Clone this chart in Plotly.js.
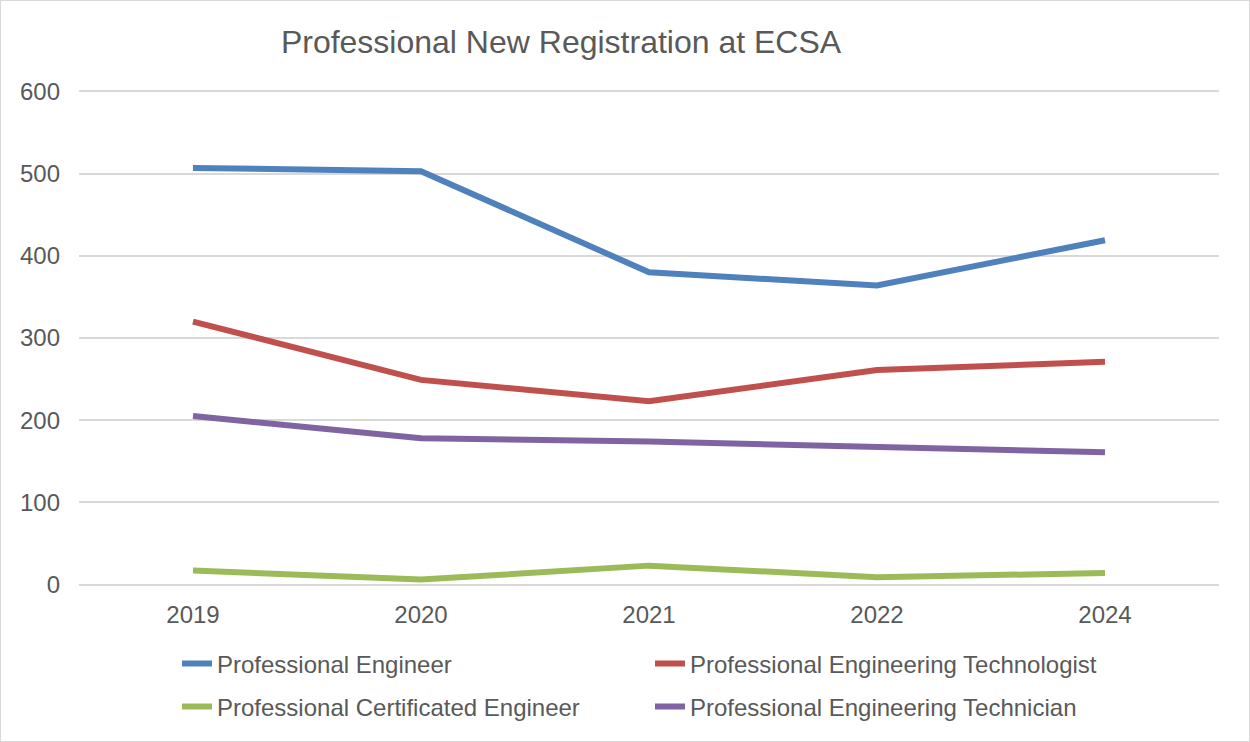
<!DOCTYPE html>
<html>
<head>
<meta charset="utf-8">
<script src="https://cdn.plot.ly/plotly-3.0.1.min.js"></script>
<style>
  html, body { margin: 0; padding: 0; background: #ffffff; }
  #frame { position: absolute; left: 0; top: 0; width: 1248px; height: 740px; border: 1px solid #d9d9d9; background: #fff; }
  #chart { width: 1248px; height: 740px; }
</style>
</head>
<body>
<div id="frame"><div id="chart"></div></div>
<script>
const years = ["2019", "2020", "2021", "2022", "2024"];
const professionalEngineer = [507, 503, 380, 364, 419];
const engineeringTechnologist = [320, 249, 223, 261, 271];
const certificatedEngineer = [17, 6, 23, 9, 14];
const engineeringTechnician = [205, 178, 174, 167, 161];

const seriesNames = [
  "Professional Engineer",
  "Professional Engineering Technologist",
  "Professional Certificated Engineer",
  "Professional Engineering Technician"
];
const seriesValues = [professionalEngineer, engineeringTechnologist, certificatedEngineer, engineeringTechnician];
const seriesColors = ["#4f81bd", "#c0504d", "#9bbb59", "#8064a2"];
const seriesLegend = ["legend", "legend", "legend2", "legend2"];

const textColor = "#595959";
const fontFamily = "Liberation Sans, Arial, sans-serif";

const traces = seriesNames.map((name, i) => ({
  type: "scatter",
  mode: "lines",
  name: name,
  x: years,
  y: seriesValues[i],
  line: { color: seriesColors[i], width: 6 },
  legend: seriesLegend[i],
  hoverinfo: "x+y+name"
}));

const legendCommon = {
  orientation: "h",
  xref: "container",
  yref: "container",
  xanchor: "left",
  yanchor: "middle",
  entrywidth: 428,
  entrywidthmode: "pixels",
  font: { family: fontFamily, size: 24, color: textColor },
  bgcolor: "rgba(0,0,0,0)",
  itemwidth: 30,
  traceorder: "normal"
};

const layout = {
  width: 1248,
  height: 740,
  paper_bgcolor: "#ffffff",
  plot_bgcolor: "#ffffff",
  margin: { l: 78, r: 30, t: 88, b: 154 },
  font: { family: fontFamily, size: 24, color: textColor },
  title: {
    text: "Professional New Registration at ECSA",
    font: { family: fontFamily, size: 32, color: textColor },
    xref: "container",
    yref: "container",
    x: 560 / 1248,
    xanchor: "center",
    y: 1 - 41 / 740,
    yanchor: "middle"
  },
  xaxis: {
    type: "category",
    range: [-0.5, 4.5],
    showgrid: false,
    showline: false,
    zeroline: false,
    ticks: "",
    ticklabelstandoff: 11,
    tickfont: { family: fontFamily, size: 24, color: textColor },
    fixedrange: true
  },
  yaxis: {
    range: [-3, 603],
    tickvals: [0, 100, 200, 300, 400, 500, 600],
    showgrid: true,
    gridcolor: "#d9d9d9",
    gridwidth: 1.5,
    zeroline: false,
    showline: false,
    ticks: "",
    ticklabelstandoff: 18,
    tickfont: { family: fontFamily, size: 24, color: textColor },
    fixedrange: true
  },
  legend: Object.assign({}, legendCommon, { x: 176 / 1248, y: 1 - 663 / 740 }),
  legend2: Object.assign({}, legendCommon, { x: 176 / 1248, y: 1 - 706 / 740 }),
  showlegend: true
};

Plotly.newPlot("chart", traces, layout, { displayModeBar: false, responsive: false });
</script>
</body>
</html>
